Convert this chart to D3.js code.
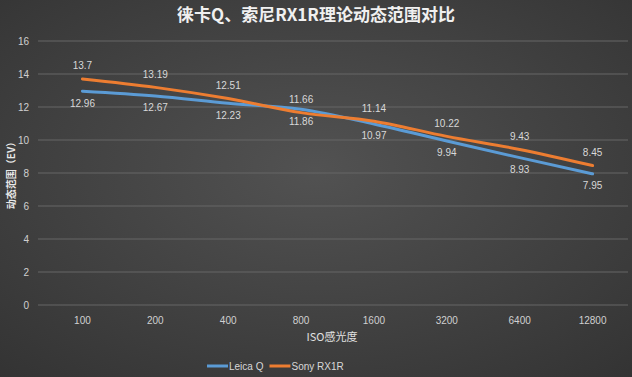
<!DOCTYPE html>
<html>
<head>
<meta charset="utf-8">
<script src="https://cdn.jsdelivr.net/npm/d3@7"></script>
<style>
  body { margin: 0; background: #3a3a3a; }
  svg { display: block; }
</style>
</head>
<body>
<script>
const categories = ['100', '200', '400', '800', '1600', '3200', '6400', '12800']
const leicaQ = [12.96, 12.67, 12.23, 11.86, 10.97, 9.94, 8.93, 7.95]
const sonyRX1R = [13.7, 13.19, 12.51, 11.66, 11.14, 10.22, 9.43, 8.45]
const yTicks = [0, 2, 4, 6, 8, 10, 12, 14, 16]

const W = 632, H = 377
const margin = { left: 46, right: 3, top: 41, bottom: 72 }

const svg = d3.select('body').append('svg')
  .attr('width', W)
  .attr('height', H)

// background gradient, lighter in the middle
const defs = svg.append('defs')
const bg = defs.append('radialGradient')
  .attr('id', 'bg')
  .attr('cx', '50%').attr('cy', '45%').attr('r', '75%')
bg.append('stop').attr('offset', '0%').attr('stop-color', '#525252')
bg.append('stop').attr('offset', '100%').attr('stop-color', '#333333')

svg.append('rect')
  .attr('width', W).attr('height', H)
  .attr('fill', 'url(#bg)')

const x = d3.scaleBand()
  .domain(categories)
  .range([margin.left, W - margin.right])

const y = d3.scaleLinear()
  .domain([0, 16])
  .range([H - margin.bottom, margin.top])

// grid
svg.append('g')
  .selectAll('line')
  .data(yTicks)
  .enter()
  .append('line')
  .attr('x1', 38)
  .attr('x2', W - 4)
  .attr('y1', d => y(d))
  .attr('y2', d => y(d))
  .attr('stroke', '#666666')
  .attr('stroke-width', 1)

// y tick labels
svg.append('g')
  .selectAll('text')
  .data(yTicks)
  .enter()
  .append('text')
  .attr('x', 29)
  .attr('y', d => y(d))
  .attr('dy', '0.35em')
  .attr('text-anchor', 'end')
  .attr('fill', '#d0d0d0')
  .attr('font-family', 'Liberation Sans, sans-serif')
  .attr('font-size', 10)
  .text(d => d)

// x tick labels
svg.append('g')
  .selectAll('text')
  .data(categories)
  .enter()
  .append('text')
  .attr('x', d => x(d) + x.bandwidth() / 2)
  .attr('y', 320)
  .attr('dy', '0.35em')
  .attr('text-anchor', 'middle')
  .attr('fill', '#d0d0d0')
  .attr('font-family', 'Liberation Sans, sans-serif')
  .attr('font-size', 10)
  .text(d => d)

// title
svg.append('text')
  .attr('x', W / 2)
  .attr('y', 21)
  .attr('text-anchor', 'middle')
  .attr('fill', '#f0f0f0')
  .attr('font-family', 'Noto Sans CJK SC, sans-serif')
  .attr('font-weight', 'bold')
  .attr('font-size', 17)
  .text('徕卡Q、索尼RX1R理论动态范围对比')

// axis titles
svg.append('text')
  .attr('x', W / 2 + 16)
  .attr('y', 341)
  .attr('text-anchor', 'middle')
  .attr('fill', '#e0e0e0')
  .attr('font-family', 'Noto Sans CJK SC, sans-serif')
  .attr('font-size', 11)
  .text('ISO感光度')

svg.append('text')
  .attr('transform', 'translate(15,' + y(8) + ') rotate(-90)')
  .attr('text-anchor', 'middle')
  .attr('fill', '#e8e8e8')
  .attr('font-family', 'Noto Sans CJK SC, sans-serif')
  .attr('font-weight', 'bold')
  .attr('font-size', 10)
  .text('动态范围（EV）')

const line = d3.line()
  .x((d, i) => x(categories[i]) + x.bandwidth() / 2)
  .y(d => y(d))
  .curve(d3.curveMonotoneX)

const series = [
  { name: 'Leica Q', values: leicaQ, color: '#5b9bd5', dy: 12 },
  { name: 'Sony RX1R', values: sonyRX1R, color: '#ed7d31', dy: -13 }
]

series.forEach(s => {
  svg.append('path')
    .datum(s.values)
    .attr('d', line)
    .attr('fill', 'none')
    .attr('stroke', s.color)
    .attr('stroke-width', 3)
    .attr('stroke-linecap', 'round')
})

series.forEach(s => {
  svg.append('g')
    .selectAll('text')
    .data(s.values)
    .enter()
    .append('text')
    .attr('x', (d, i) => x(categories[i]) + x.bandwidth() / 2)
    .attr('y', d => y(d) + s.dy)
    .attr('dy', '0.35em')
    .attr('text-anchor', 'middle')
    .attr('fill', '#d8d8d8')
    .attr('font-family', 'Liberation Sans, sans-serif')
    .attr('font-size', 10)
    .text(d => d)
})

// legend
const legend = svg.append('g')
  .attr('transform', 'translate(207,366)')
let lx = 0
series.forEach(s => {
  legend.append('line')
    .attr('x1', lx).attr('x2', lx + 21)
    .attr('y1', 0).attr('y2', 0)
    .attr('stroke', s.color)
    .attr('stroke-width', 3)
  const t = legend.append('text')
    .attr('x', lx + 22)
    .attr('y', 0)
    .attr('dy', '0.35em')
    .attr('fill', '#d8d8d8')
    .attr('font-family', 'Liberation Sans, sans-serif')
    .attr('font-size', 10)
    .text(s.name)
  lx += 22 + t.node().getComputedTextLength() + 6
})
</script>
</body>
</html>
